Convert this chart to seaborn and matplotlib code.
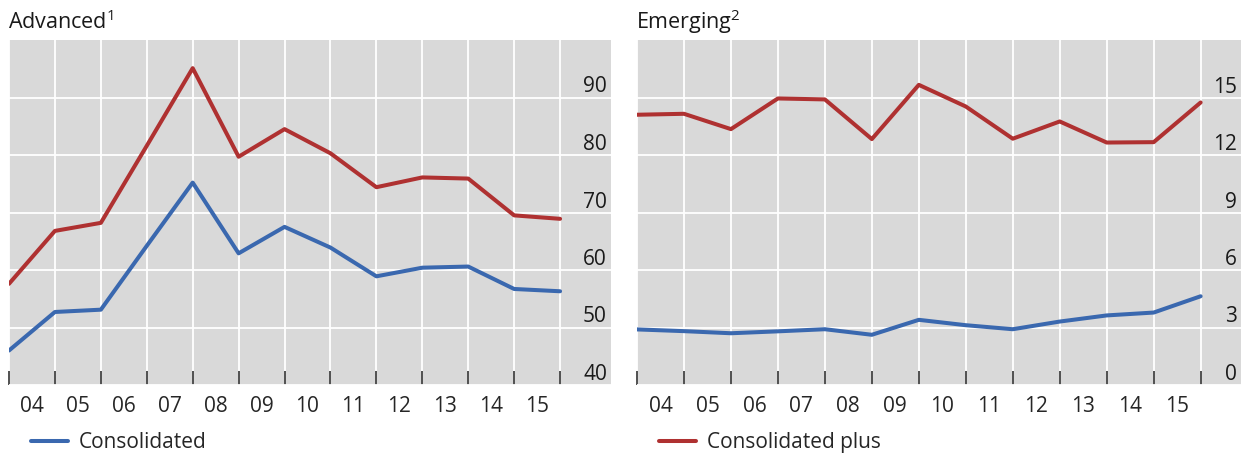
import pandas as pd
import matplotlib.pyplot as plt
import matplotlib.transforms as mtransforms
import seaborn as sns

# year-end observations, 2003 to 2015
years = [2003, 2004, 2005, 2006, 2007, 2008, 2009, 2010, 2011, 2012, 2013, 2014, 2015]
adv_cons = [46.0, 52.7, 53.1, 64.2, 75.2, 62.9, 67.5, 63.9, 58.9, 60.4, 60.6, 56.7, 56.3]
adv_plus = [57.6, 66.8, 68.2, 81.6, 95.1, 79.7, 84.5, 80.3, 74.4, 76.1, 75.9, 69.5, 68.9]
em_cons = [2.90, 2.81, 2.70, 2.80, 2.91, 2.62, 3.40, 3.12, 2.91, 3.31, 3.63, 3.78, 4.63]
em_plus = [14.10, 14.15, 13.35, 14.95, 14.90, 12.83, 15.66, 14.53, 12.85, 13.75, 12.65, 12.67, 14.74]

year_labels = ["04", "05", "06", "07", "08", "09", "10", "11", "12", "13", "14", "15"]
adv_yticks = [40, 50, 60, 70, 80, 90]
em_yticks = [0, 3, 6, 9, 12, 15]

blue = "#3A68AF"
red = "#AF3131"

rows = []
for region, cons, plus in [("Advanced", adv_cons, adv_plus), ("Emerging", em_cons, em_plus)]:
    for y, c, p in zip(years, cons, plus):
        rows.append({"region": region, "year": y + 1, "value": c, "series": "Consolidated"})
        rows.append({"region": region, "year": y + 1, "value": p, "series": "Consolidated plus"})
df = pd.DataFrame(rows)

sns.set_style("darkgrid", {"axes.facecolor": "#D9D9D9", "grid.color": "white"})
plt.rcParams['font.family'] = ['Open Sans', 'DejaVu Sans']
plt.rcParams['font.size'] = 15
plt.rcParams['mathtext.fontset'] = 'custom'
plt.rcParams['mathtext.rm'] = 'Open Sans'

fig = plt.figure(figsize=(12.47, 4.55), dpi=100)
ax1 = fig.add_axes([9 / 1247, 70 / 455, 602 / 1247, 345 / 455])
ax2 = fig.add_axes([637 / 1247, 70 / 455, 604 / 1247, 345 / 455])

panels = [
    (ax1, "Advanced", r"Advanced$^{\mathregular{1}}$", adv_yticks, (40, 100), 2004 + 601.7 / 45.9, "Consolidated", blue),
    (ax2, "Emerging", r"Emerging$^{\mathregular{2}}$", em_yticks, (0, 18), 2004 + 604 / 46.97, "Consolidated plus", red),
]

for ax, region, title, yticks, ylim, xmax, leg_series, leg_color in panels:
    sub = df[df["region"] == region]
    sns.lineplot(data=sub, x="year", y="value", hue="series",
                 palette={"Consolidated": blue, "Consolidated plus": red},
                 estimator=None, linewidth=2.9, legend=False, ax=ax)
    ax.set_xlim(2004, xmax)
    ax.set_ylim(*ylim)
    ax.set_xlabel("")
    ax.set_ylabel("")
    for s in ax.spines.values():
        s.set_visible(False)

    # year boundaries carry the ticks, labels sit in the middle of each year
    ax.set_xticks([y + 1 for y in years])
    ax.set_xticklabels([])
    ax.set_xticks([y + 1.5 for y in years[:-1]], labels=year_labels, minor=True)
    ax.tick_params(axis="x", which="major", direction="in", length=10, width=1.2,
                   color="#333333", bottom=True)
    ax.tick_params(axis="x", which="minor", length=0, pad=8, labelsize=15)
    ax.grid(True, which="major", color="white", linewidth=1.3)
    ax.grid(False, which="minor")

    ax.set_yticks(yticks)
    ax.set_yticklabels([])
    ax.tick_params(axis="y", length=0)
    ytrans = mtransforms.offset_copy(
        mtransforms.blended_transform_factory(ax.transAxes, ax.transData),
        fig=fig, x=-4, y=5, units="dots")
    for v in yticks:
        ax.text(1, v, str(v), transform=ytrans, ha="right", va="baseline",
                fontsize=15, color="#1a1a1a")

    ax.text(0, 1, title, transform=mtransforms.offset_copy(ax.transAxes, fig=fig, x=-1, y=11, units="dots"),
            ha="left", va="baseline", fontsize=15.5, color="#1a1a1a")

    handle = [l for l in ax.lines if l.get_color() == leg_color][:1]
    ax.legend(handle, [leg_series], loc="center left", bbox_to_anchor=(0.037, -0.168),
              frameon=False, handlelength=1.75, handletextpad=0.55,
              borderpad=0, borderaxespad=0, fontsize=15)

fig.savefig("out.png", dpi=100)
